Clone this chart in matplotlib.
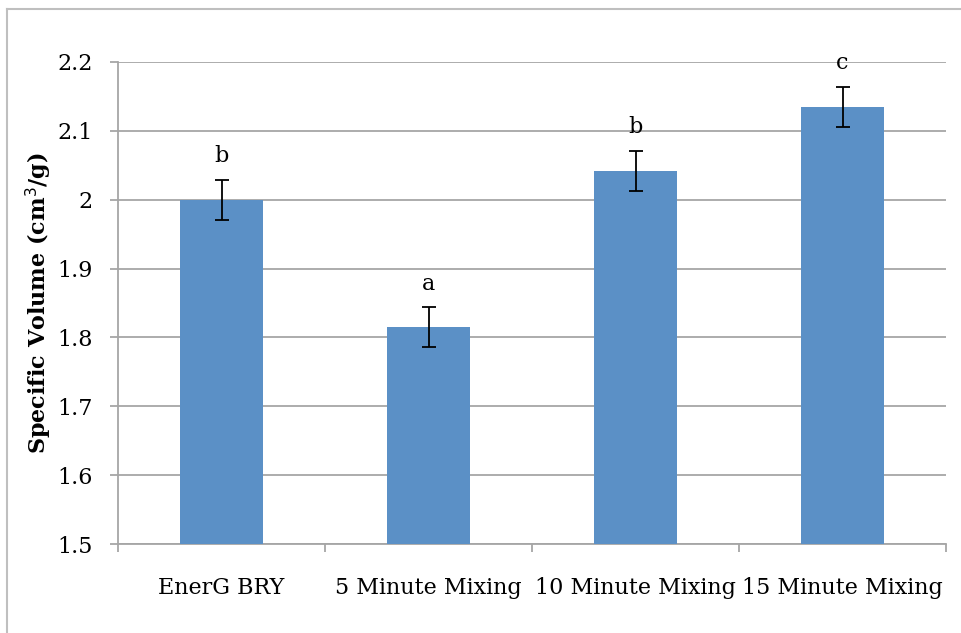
import matplotlib.pyplot as plt
from matplotlib.lines import Line2D

categories = ["EnerG BRY", "5 Minute Mixing", "10 Minute Mixing", "15 Minute Mixing"]
volumes = [2.000, 1.815, 2.042, 2.135]
errors = [0.029, 0.029, 0.029, 0.029]
letters = ["b", "a", "b", "c"]
yticks = [1.5, 1.6, 1.7, 1.8, 1.9, 2.0, 2.1, 2.2]
ytick_labels = ["1.5", "1.6", "1.7", "1.8", "1.9", "2", "2.1", "2.2"]

plt.rcParams['font.family'] = ['DejaVu Serif']

fig = plt.figure(figsize=(9.61, 6.33), dpi=100)
ax = fig.add_axes([0.1228, 0.1406, 0.8616, 0.7615])

grid_col = '#A6A6A6'
fs = 16
x = range(len(categories))
ax.bar(x, volumes, width=0.4, color='#5B90C6', zorder=3)
ax.errorbar(x, volumes, yerr=errors, fmt='none', ecolor='black',
            elinewidth=1.3, capsize=5, capthick=1.3, zorder=4)

for i, (v, e, l) in enumerate(zip(volumes, errors, letters)):
    ax.text(i, v + e + 0.018, l, ha='center', va='bottom', fontsize=fs)

ax.set_xlim(-0.5, len(categories) - 0.5)
ax.set_ylim(1.5, 2.2)
ax.set_yticks(yticks)
ax.set_yticklabels(ytick_labels, fontsize=fs)
ax.set_xticks([i - 0.5 for i in range(len(categories) + 1)])
ax.set_xticklabels([])
ax.set_xticks(list(x), minor=True)
ax.set_xticklabels(categories, minor=True, fontsize=fs)
ax.tick_params(axis='x', which='minor', length=0, pad=24)
ax.tick_params(axis='x', which='major', length=6, color=grid_col, width=1.3)
ax.tick_params(axis='y', length=6, color=grid_col, width=1.3, pad=12)

ax.yaxis.grid(True, color=grid_col, linewidth=1.3, zorder=0)
ax.set_axisbelow(True)
for s in ['top', 'right']:
    ax.spines[s].set_visible(False)
for s in ['left', 'bottom']:
    ax.spines[s].set_color(grid_col)
    ax.spines[s].set_linewidth(1.3)

ax.set_ylabel("Specific Volume (cm$^3$/g)", fontsize=fs, fontweight='bold')
ax.yaxis.set_label_coords(-0.077, 0.5)

# chart frame (only left and top edges visible in the crop)
fig.add_artist(Line2D([0.0078, 0.0078], [0, 0.986], transform=fig.transFigure,
                      color='#BFBFBF', linewidth=1.5))
fig.add_artist(Line2D([0.0078, 1.0], [0.986, 0.986], transform=fig.transFigure,
                      color='#BFBFBF', linewidth=1.5))

fig.savefig("out.png", dpi=100)
